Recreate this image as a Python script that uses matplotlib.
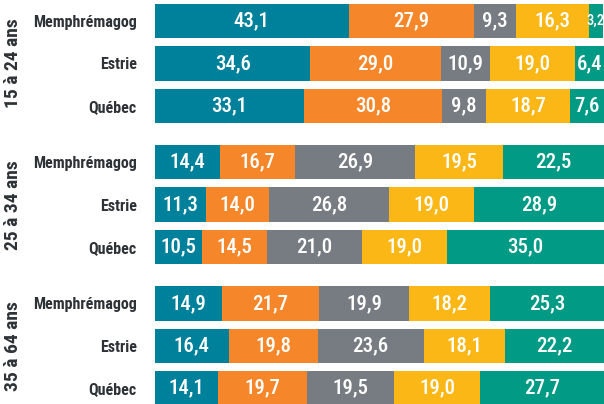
import matplotlib
matplotlib.use("Agg")
import matplotlib.pyplot as plt
from matplotlib import font_manager
from matplotlib.transforms import blended_transform_factory

groups = ["15 à 24 ans", "25 à 34 ans", "35 à 64 ans"]
regions = ["Memphrémagog", "Estrie", "Québec"]
colors = ["#00819b", "#f5862a", "#767c81", "#fbb715", "#009a85"]

# one row per region, five segments per row
g1524 = [[43.1, 27.9, 9.3, 16.3, 3.2],
         [34.6, 29.0, 10.9, 19.0, 6.4],
         [33.1, 30.8, 9.8, 18.7, 7.6]]
g2534 = [[14.4, 16.7, 26.9, 19.5, 22.5],
         [11.3, 14.0, 26.8, 19.0, 28.9],
         [10.5, 14.5, 21.0, 19.0, 35.0]]
g3564 = [[14.9, 21.7, 19.9, 18.2, 25.3],
         [16.4, 19.8, 23.6, 18.1, 22.2],
         [14.1, 19.7, 19.5, 19.0, 27.7]]
data = [g1524, g2534, g3564]

# pick a narrow font if one is there
names = {f.name for f in font_manager.fontManager.ttflist}
font = "DejaVu Sans"
for cand in ["Roboto Condensed", "Liberation Sans Narrow", "Open Sans Condensed", "Noto Sans Condensed"]:
    if cand in names:
        font = cand
        break
plt.rcParams["font.family"] = [font, "DejaVu Sans"]
plt.rcParams["font.stretch"] = "condensed"

fig = plt.figure(figsize=(6.04, 4.04), dpi=100)
ax = fig.add_axes([155 / 604, 0, 449 / 604, 1])

gap = 0.33
ypos = []
for g in range(3):
    for r in range(3):
        ypos.append(g * (3 + gap) + r)

i = 0
for g, rows in enumerate(data):
    for r, vals in enumerate(rows):
        left = 0
        for k, v in enumerate(vals):
            ax.barh(ypos[i], v, left=left, height=0.81, color=colors[k], linewidth=0)
            fs = 15 if v >= 5 else 10.5
            ax.text(left + v / 2, ypos[i], f"{v:.1f}".replace(".", ","), color="white",
                    ha="center", va="center", fontsize=fs, fontweight="medium")
            left += v
        i += 1

ax.set_xlim(0, 100)
ax.set_ylim(9.03, -0.495)
ax.set_yticks(ypos)
ax.set_yticklabels(regions * 3, fontsize=11.5, fontweight="bold", color="#2d3236")
ax.tick_params(axis="y", length=0, pad=13)
ax.set_xticks([])
for s in ax.spines.values():
    s.set_visible(False)

tr = blended_transform_factory(fig.transFigure, ax.transData)
for g, name in enumerate(groups):
    ax.text(13 / 604, g * (3 + gap) + 1, name, transform=tr, rotation=90,
            ha="center", va="center", fontsize=14, fontweight="bold", color="#2d3236")

fig.savefig("out.png", dpi=100)
